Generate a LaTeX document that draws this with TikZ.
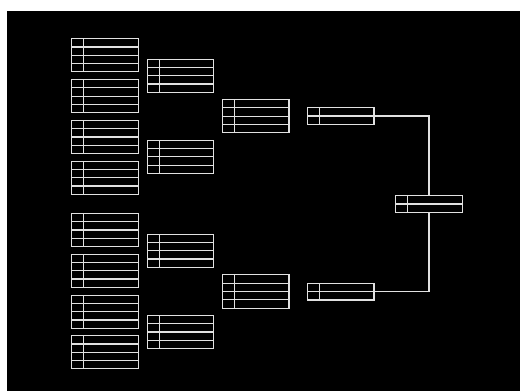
\documentclass[tikz,border=0pt]{standalone}
\usetikzlibrary{calc}
\definecolor{lc}{RGB}{225,225,225}
\tikzset{
  tbl/.style={draw=lc, line width=1.1pt, fill=black, minimum width=66.5pt, inner sep=0pt, outer sep=0pt, rectangle},
  ln/.style={draw=lc, line width=1.1pt},
}
\newcommand\mytable[4]{%
  \node[tbl, minimum height=#4*8.3pt] (#1) at (#2,#3) {};
  \draw[ln] ([xshift=11.8pt]#1.north west) -- ([xshift=11.8pt]#1.south west);
  \foreach \i in {1,...,\numexpr#4-1\relax}{
    \draw[ln] ($(#1.north west)!\i/#4!(#1.south west)$) -- ($(#1.north east)!\i/#4!(#1.south east)$);
  }%
}
\begin{document}
\begin{tikzpicture}[x=1pt,y=-1pt]
  \useasboundingbox (0,0) rectangle (520,391);
  \fill[white] (0,0) rectangle (520,391);
  \fill[black] (7,11) rectangle (520,391);
  % column 1
  \mytable{a1}{105}{55.3}{4}
  \mytable{a2}{105}{96.2}{4}
  \mytable{a3}{105}{137}{4}
  \mytable{a4}{105}{177.7}{4}
  \mytable{a5}{105}{230}{4}
  \mytable{a6}{105}{270.7}{4}
  \mytable{a7}{105}{311.7}{4}
  \mytable{a8}{105}{352.3}{4}
  % column 2
  \mytable{b1}{180.5}{75.7}{4}
  \mytable{b2}{180.5}{156.8}{4}
  \mytable{b3}{180.5}{250.7}{4}
  \mytable{b4}{180.5}{332}{4}
  % column 3
  \mytable{c1}{255.7}{116.2}{4}
  \mytable{c2}{255.7}{291.5}{4}
  % column 4
  \mytable{d1}{340.7}{116}{2}
  \mytable{d2}{340.7}{291.7}{2}
  % final
  \mytable{f}{429}{204}{2}
  % connectors
  \draw[ln] (d1.east) -| (f.north);
  \draw[ln] (d2.east) -| (f.south);
\end{tikzpicture}
\end{document}
